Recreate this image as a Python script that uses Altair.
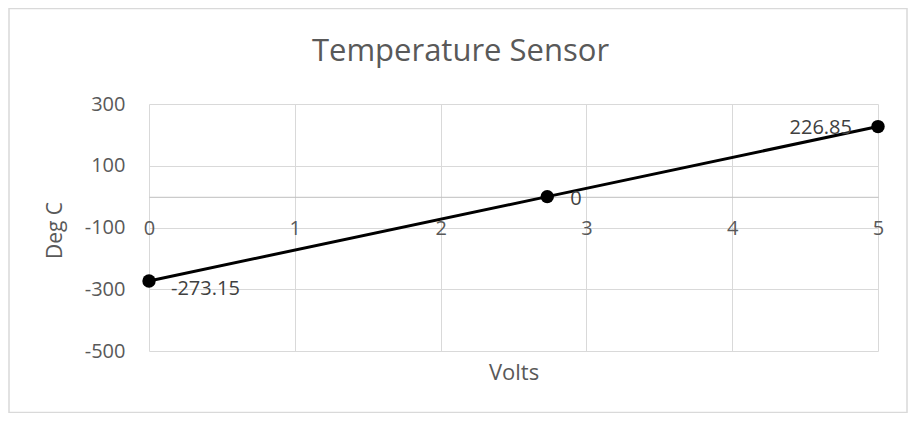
import altair as alt
import pandas as pd

volts = [0, 2.7315, 5]
deg_c = [-273.15, 0, 226.85]
point_labels = ["-273.15", "0", "226.85"]
label_idx = [0, 1, 2]

x_ticks = [0, 1, 2, 3, 4, 5]
y_ticks = [-500, -300, -100, 100, 300]

df = pd.DataFrame({"Volts": volts, "DegC": deg_c, "label": point_labels, "idx": label_idx})

FONT = "Open Sans"
GRID = "#d9d9d9"
TXT = "#595959"

x_enc = alt.X(
    "Volts:Q",
    scale=alt.Scale(domain=[0, 5], nice=False, zero=False),
    axis=alt.Axis(
        values=x_ticks,
        format="d",
        title="Volts",
        offset=-154.2,
        grid=True,
        gridColor=GRID,
        gridWidth=1,
        domainColor="#bfbfbf",
        domainWidth=1,
        ticks=False,
        labelPadding=22,
        labelFontSize=20,
        labelColor=TXT,
        labelFont=FONT,
        labelBaseline="top",
        titleFont=FONT,
        titleFontSize=22,
        titleFontWeight="normal",
        titleColor=TXT,
        titleBaseline="alphabetic",
        titleY=183,
        labelFlush=False,
    ),
)
y_enc = alt.Y(
    "DegC:Q",
    scale=alt.Scale(domain=[-500, 300], nice=False, zero=False),
    axis=alt.Axis(
        values=y_ticks,
        title="Deg C",
        grid=True,
        gridColor=GRID,
        gridWidth=1,
        domain=False,
        ticks=False,
        labelPadding=24,
        labelFontSize=20,
        labelColor=TXT,
        labelFont=FONT,
        labelExpr="'' + datum.value",
        titleFont=FONT,
        titleFontSize=21,
        titleFontWeight="normal",
        titleColor=TXT,
        titleAngle=-90,
        titleAlign="center",
        titleBaseline="middle",
        titleX=-94,
        titleY=126,
    ),
)

frame = alt.Chart(pd.DataFrame({"f": [0]})).mark_rect(
    fillOpacity=0, stroke=GRID, strokeWidth=1.5
).encode(
    x=alt.value(-140), x2=alt.value(758), y=alt.value(-95.5), y2=alt.value(308.5)
)

base = alt.Chart(df)
line = base.mark_line(color="black", strokeWidth=3).encode(x=x_enc, y=y_enc)
pts = base.mark_point(filled=True, color="black", size=180, opacity=1).encode(x="Volts:Q", y="DegC:Q")

def lab(i, align, dx, dy):
    return base.transform_filter(alt.datum.idx == i).mark_text(
        align=align, baseline="middle", dx=dx, dy=dy, fontSize=20, font=FONT, color="#404040"
    ).encode(x="Volts:Q", y="DegC:Q", text="label:N")

chart = alt.layer(
    frame, line, pts,
    lab(0, "left", 22, 8),
    lab(1, "left", 23, 2),
    lab(2, "right", -26, 1),
).properties(
    width=729,
    height=247,
    autosize=alt.AutoSizeParams(type="none"),
    padding={"left": 141, "top": 96, "right": 30, "bottom": 62},
    title=alt.TitleParams(
        "Temperature Sensor",
        font=FONT,
        fontSize=31,
        fontWeight="normal",
        color=TXT,
        anchor="middle",
        frame="group",
        dx=-53,
        offset=-60,
    ),
).configure_view(stroke=None)

chart.save("out.html", embed_options={"renderer": "svg", "actions": False})
